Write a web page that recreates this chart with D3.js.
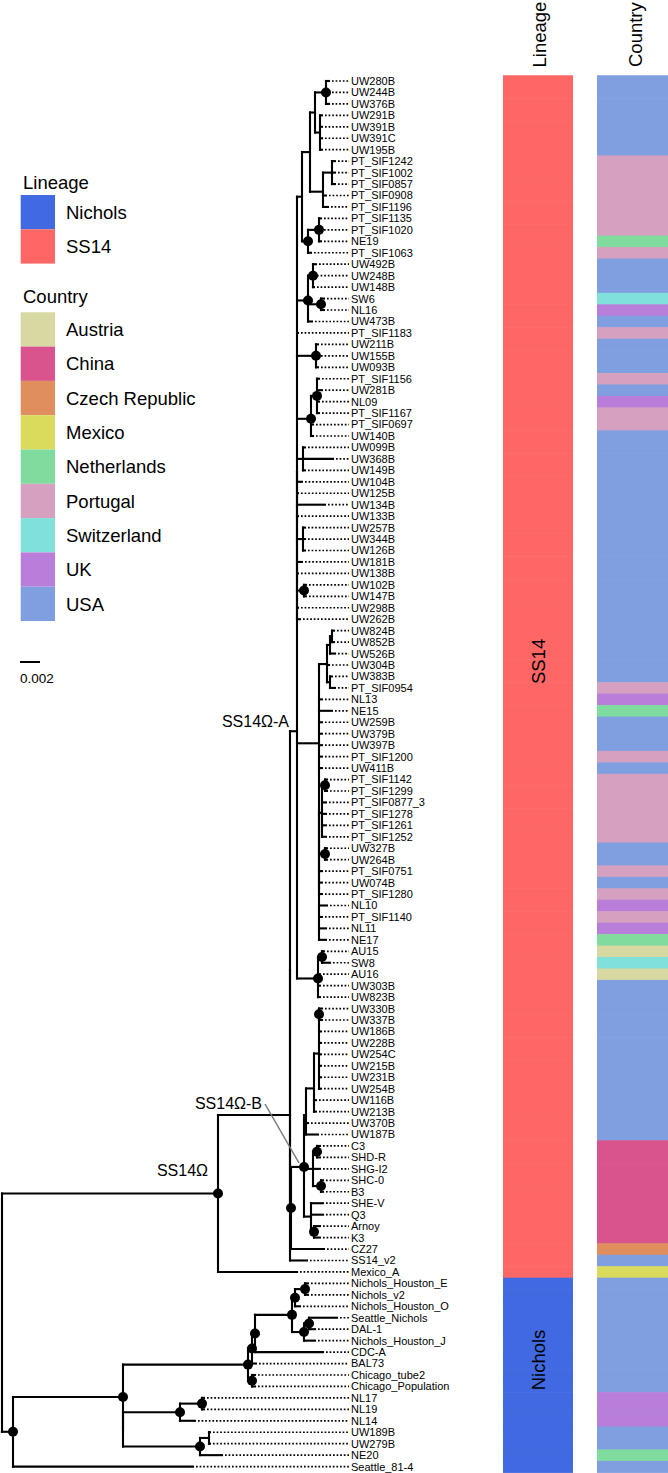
<!DOCTYPE html>
<html><head><meta charset="utf-8">
<script src="https://cdn.jsdelivr.net/npm/d3@7"></script>
<style>body{margin:0;background:#fff}svg{display:block}text{font-family:"Liberation Sans",Arial,Helvetica,sans-serif;fill:#000}</style>
</head><body><svg id="c" width="668" height="1473"></svg>
<script>
// ---------- DATA ----------
// Branch lengths (substitutions / site); "*" marks a supported node (black dot)
const P1 = "((UW280B:.0003,UW244B:.0003,UW376B:.0003)*:.0011,(UW291B:.0002,UW391B:.0002,UW391C:.0002,UW195B:.0002):.0005):.0005";
const Q1 = "((PT_SIF1242:.0003,PT_SIF1002:.0003,PT_SIF0857:.0003):.0009,PT_SIF0908:.0003,PT_SIF1196:.0005):.0013";
const R  = "((PT_SIF1135:.0002,PT_SIF1020:.0002,NE19:.0002)*:.0011,PT_SIF1063:.0003)*:.0006";
const S  = "((UW492B:.0003,UW248B:.0001,UW148B:.0001)*:.0005,(SW6:.0003,NL16:.0003)*:.0013,UW473B:.0004)*:.0011";
const UWg= "(UW211B:.0002,UW155B:.0002,UW093B:.0002)*:.0019";
const U  = "((PT_SIF1156:.0002,UW281B:.0005,NL09:.0002,PT_SIF1167:.0002)*:.0006,PT_SIF0697:.0002,UW140B:.0002)*:.0014";
const H  = "(UW099B:.0002,UW368B:.0030,UW149B:.0002):.0006";
const K  = "(UW257B:.0002,UW344B:.0002,UW126B:.0002):.0006";
const L  = "(UW102B:.0002,UW147B:.0002)*:.0007";
const V1 = "(((UW824B:.0002,UW852B:.0002):.0002,UW526B:.0005):.0003,UW304B:.0002,(UW383B:.0002,PT_SIF0954:.0005):.0003):.0008";
const X1 = "((PT_SIF1142:.0002,PT_SIF1299:.0002)*:.0003,PT_SIF0877_3:.0004,PT_SIF1278:.0004,PT_SIF1261:.0004,PT_SIF1252:.0004):.0003";
const X3 = "(UW327B:.0002,UW264B:.0002)*:.0006";
const W  = "((AU15:.0002,SW8:.0008)*:.0004,AU16:.0002,UW303B:.0002,UW823B:.0002)*:.0021";
const G3 = "((((UW330B:.0003,UW337B:.0003)*:0,UW186B:.0002,UW228B:.0002,UW254C:.0002,UW215B:.0002,UW231B:.0002,UW254B:.0002):.0005,UW116B:.0002,UW213B:.0002):.0008,UW370B:.0002,UW187B:.0012):.0002";
const CNa= "((C3:.0003,SHD-R:.0003)*:.0004,SHG-I2:.0007,(SHC-0:.0002,B3:.0002)*:.0008):.0009";
const M  = "(SHE-V:.0012,Q3:.0012,(Arnoy:.0006,K3:.0006)*:.0003):.0007";
const N4 = "(((Nichols_Houston_E:.0003,Nichols_v2:.0003)*:.0010,Nichols_Houston_O:.0005)*:.0003,((Seattle_Nichols:.0028,DAL-1:.0006)*:.0005,Nichols_Houston_J:.0011)*:.0012)*:.0037";
const NLg= "((NL17:.0002,NL19:.0002)*:.0022,NL14:.0015)*:.0057";
const UWn= "((UW189B:.0001,UW279B:.0001):.0009,NE20:.0022)*:.0077";

const P3 = `((${P1},${Q1}):.0008,${R}):.0005`;
const A1 = `(${P3},${S},PT_SIF1183:.0001,${UWg},${U},${H},UW104B:.0005,UW125B:.0001,UW134B:.0028,UW133B:.0001,${K},UW181B:.0005,UW138B:.0001,${L},UW298B:.0001,UW262B:.0003):0`;
const V0b = `(${X1},${X3},PT_SIF0751:.0003,UW074B:.0003,PT_SIF1280:.0003,NL10:.0008,PT_SIF1140:.0003,NL11:.0007,NE17:.0007):0`;
const V0 = `(${V1},NL13:.0003,NE15:.0013,UW259B:.0003,UW379B:.0003,UW397B:.0003,PT_SIF1200:.0003,UW411B:.0003,${V0b}):.0022`;
const ACore = `(${A1},${V0},${W}):.0007`;           // SS14Ω-A
const N291 = `((${G3},${CNa},${M})*:.0013,CZ27:.0033)*:.0001`;   // contains SS14Ω-B
const SS14O = `(((${ACore},${N291}):0,SS14_v2:.0017):.0072,Mexico_A:.0079)*:.0216`;
const N0 = `((((${N4},CDC-A:.0068)*:.0003,BAL73:.0004)*:.0004,(Chicago_tube2:.0003,Chicago_Population:.0003)*:.0004)*:.0125`;
const NA = `(${N0},(${NLg},${UWn}):0)*:.0110`;
const treeNewick = `(${SS14O},(${NA},Seattle_81-4:.0180)*:.0011);`;

const lineageNames  = ["Nichols", "SS14"];
const lineageColors = ["#4169E1", "#FF6767"];
const countryNames  = ["Austria","China","Czech Republic","Mexico","Netherlands","Portugal","Switzerland","UK","USA"];
const countryCodes  = ["A","C","Z","M","N","P","S","K","U"];
const countryColors = ["#D8D8A2","#D9548C","#E08E5E","#DADB5C","#80DC9E","#D6A0C0","#80E0DA","#B87EDA","#809FE0"];
// country of each tip, in tip order (top to bottom)
const tipCountryCodes = "UUUUUUUPPPPPPPNPUUUSKUPUUUPUKPPUUUUUUUUUUUUUUUUUUUUUUPKNUUUPUPPPPPPUUPUPKPKNASAUUUUUUUUUUUUUUCCCCCCCCCZUMUUUUUUUUUUKKKUUNU";
// lineage of each tip, in tip order (S = SS14, N = Nichols)
const tipLineageCodes = "SSSSSSSSSSSSSSSSSSSSSSSSSSSSSSSSSSSSSSSSSSSSSSSSSSSSSSSSSSSSSSSSSSSSSSSSSSSSSSSSSSSSSSSSSSSSSSSSSSSSSSSSSNNNNNNNNNNNNNNNNN";
const scaleBarValue = 0.002;
const cladeLabels = ["SS14\u03A9-A", "SS14\u03A9-B", "SS14\u03A9"];

// ---------- PARSE ----------
function parseNewick(s){
  let i=0;
  function node(){
    const n={children:[]};
    if(s[i]==='('){ i++; n.children.push(node()); while(s[i]===','){i++; n.children.push(node());} i++; }
    let name=''; while(i<s.length && !',():;'.includes(s[i])) name+=s[i++];
    n.name=name; n.length=0;
    if(s[i]===':'){ i++; let num=''; while(i<s.length && !',();'.includes(s[i])) num+=s[i++]; n.length=+num; }
    return n;
  }
  return node();
}
const root = d3.hierarchy(parseNewick(treeNewick), d => d.children.length ? d.children : null);
root.each(d => { d.depth2 = d.parent ? d.parent.depth2 + d.data.length : 0; });
const leaves = root.leaves();

// ---------- SCALES ----------
const maxDepth = d3.max(leaves, d => d.depth2);
const x = d3.scaleLinear().domain([0, maxDepth]).range([2, 2 + maxDepth * 10000]);
const y = d3.scaleLinear().domain([0, leaves.length - 1]).range([81, 1466.6]);
leaves.forEach((d,i) => { d.py = y(i); d.idx = i; });
root.eachAfter(d => { if(d.children) d.py = d3.mean(d.children, c => c.py); d.px = x(d.depth2); });

const svg = d3.select("#c");
const g = svg.append("g");
const LW = 2.1;

// ---------- TREE ----------
root.descendants().forEach(d => {
  if(d.parent){
    g.append("line").attr("x1", d.parent.px).attr("x2", d.px).attr("y1", d.py).attr("y2", d.py)
      .attr("stroke","#000").attr("stroke-width",LW).attr("stroke-linecap","square");
  }
  if(d.children){
    const ys = d.children.map(c=>c.py);
    g.append("line").attr("x1", d.px).attr("x2", d.px).attr("y1", d3.min(ys)).attr("y2", d3.max(ys))
      .attr("stroke","#000").attr("stroke-width",LW).attr("stroke-linecap","square");
  }
});
// aligned dotted leaders and tip labels
const labelX = 351;
leaves.forEach(d => {
  g.append("line").attr("x1", d.px + 3).attr("x2", labelX - 2).attr("y1", d.py).attr("y2", d.py)
    .attr("stroke","#000").attr("stroke-width",1.7).attr("stroke-dasharray","1.7,1.9");
  g.append("text").attr("x", labelX).attr("y", d.py).attr("dy","0.36em").attr("font-size",11).text(d.data.name);
});
// support dots
root.descendants().filter(d => d.children && d.data.name === "*").forEach(d => {
  g.append("circle").attr("cx", d.px).attr("cy", d.py).attr("r", 5).attr("fill","#000");
});

// clade labels
g.append("text").attr("x", 289).attr("y", 727).attr("text-anchor","end").attr("font-size",16).text(cladeLabels[0]);
g.append("line").attr("x1", 265).attr("y1", 1104).attr("x2", 299).attr("y2", 1163).attr("stroke","#777").attr("stroke-width",1.5);
g.append("text").attr("x", 262).attr("y", 1109).attr("text-anchor","end").attr("font-size",16).text(cladeLabels[1]);
g.append("text").attr("x", 208).attr("y", 1176).attr("text-anchor","end").attr("font-size",16).text(cladeLabels[2]);

// ---------- STRIPS ----------
const cellH = (y(1) - y(0));
const linX = 503, linW = 70, ctyX = 597, ctyW = 71;
leaves.forEach((d,i) => {
  const li = tipLineageCodes[i] === "N" ? 0 : 1;
  svg.append("rect").attr("x", linX).attr("width", linW).attr("y", d.py - cellH/2).attr("height", cellH + 0.6).attr("fill", lineageColors[li]);
  const ci = countryCodes.indexOf(tipCountryCodes[i]);
  svg.append("rect").attr("x", ctyX).attr("width", ctyW).attr("y", d.py - cellH/2).attr("height", cellH + 0.6).attr("fill", countryColors[ci]);
});
function blockCenter(code){
  const idx = leaves.filter((d,i)=>tipLineageCodes[i]===code).map(d=>d.py);
  return (d3.min(idx) + d3.max(idx))/2;
}
[["S","SS14"],["N","Nichols"]].forEach(([c,t]) => {
  const cy = blockCenter(c) - 15;
  svg.append("text").attr("transform", `translate(${linX+linW/2 + 6.5},${cy}) rotate(-90)`).attr("text-anchor","middle").attr("font-size",18.5).text(t);
});
// headers
svg.append("text").attr("transform","translate(545.5,67.5) rotate(-90)").attr("font-size",18.5).text("Lineage");
svg.append("text").attr("transform","translate(641.5,67) rotate(-90)").attr("font-size",18.5).text("Country");

// ---------- LEGEND ----------
const leg = svg.append("g");
const keyX = 20.7, keyW = 34.3, keyH = 34.3;
leg.append("text").attr("x", 23).attr("y", 188.5).attr("font-size",18.5).text("Lineage");
lineageNames.forEach((n,i) => {
  const yy = 195 + i*keyH;
  leg.append("rect").attr("x",keyX).attr("y",yy).attr("width",keyW).attr("height",keyH).attr("fill",lineageColors[i]);
  leg.append("text").attr("x",66).attr("y",yy+keyH/2+6.7).attr("font-size",18.5).text(n);
});
leg.append("text").attr("x", 23).attr("y", 302.7).attr("font-size",18.5).text("Country");
countryNames.forEach((n,i) => {
  const yy = 312.3 + i*keyH;
  leg.append("rect").attr("x",keyX).attr("y",yy).attr("width",keyW).attr("height",keyH).attr("fill",countryColors[i]);
  leg.append("text").attr("x",66).attr("y",yy+keyH/2+6.7).attr("font-size",18.5).text(n);
});

// ---------- SCALE BAR ----------
const sb0 = 20;
svg.append("line").attr("x1", sb0).attr("x2", sb0 + (x(scaleBarValue) - x(0))).attr("y1", 662).attr("y2", 662)
  .attr("stroke","#000").attr("stroke-width",2);
svg.append("text").attr("x", sb0).attr("y", 683).attr("font-size",13.5).text(String(scaleBarValue));
</script></body></html>
